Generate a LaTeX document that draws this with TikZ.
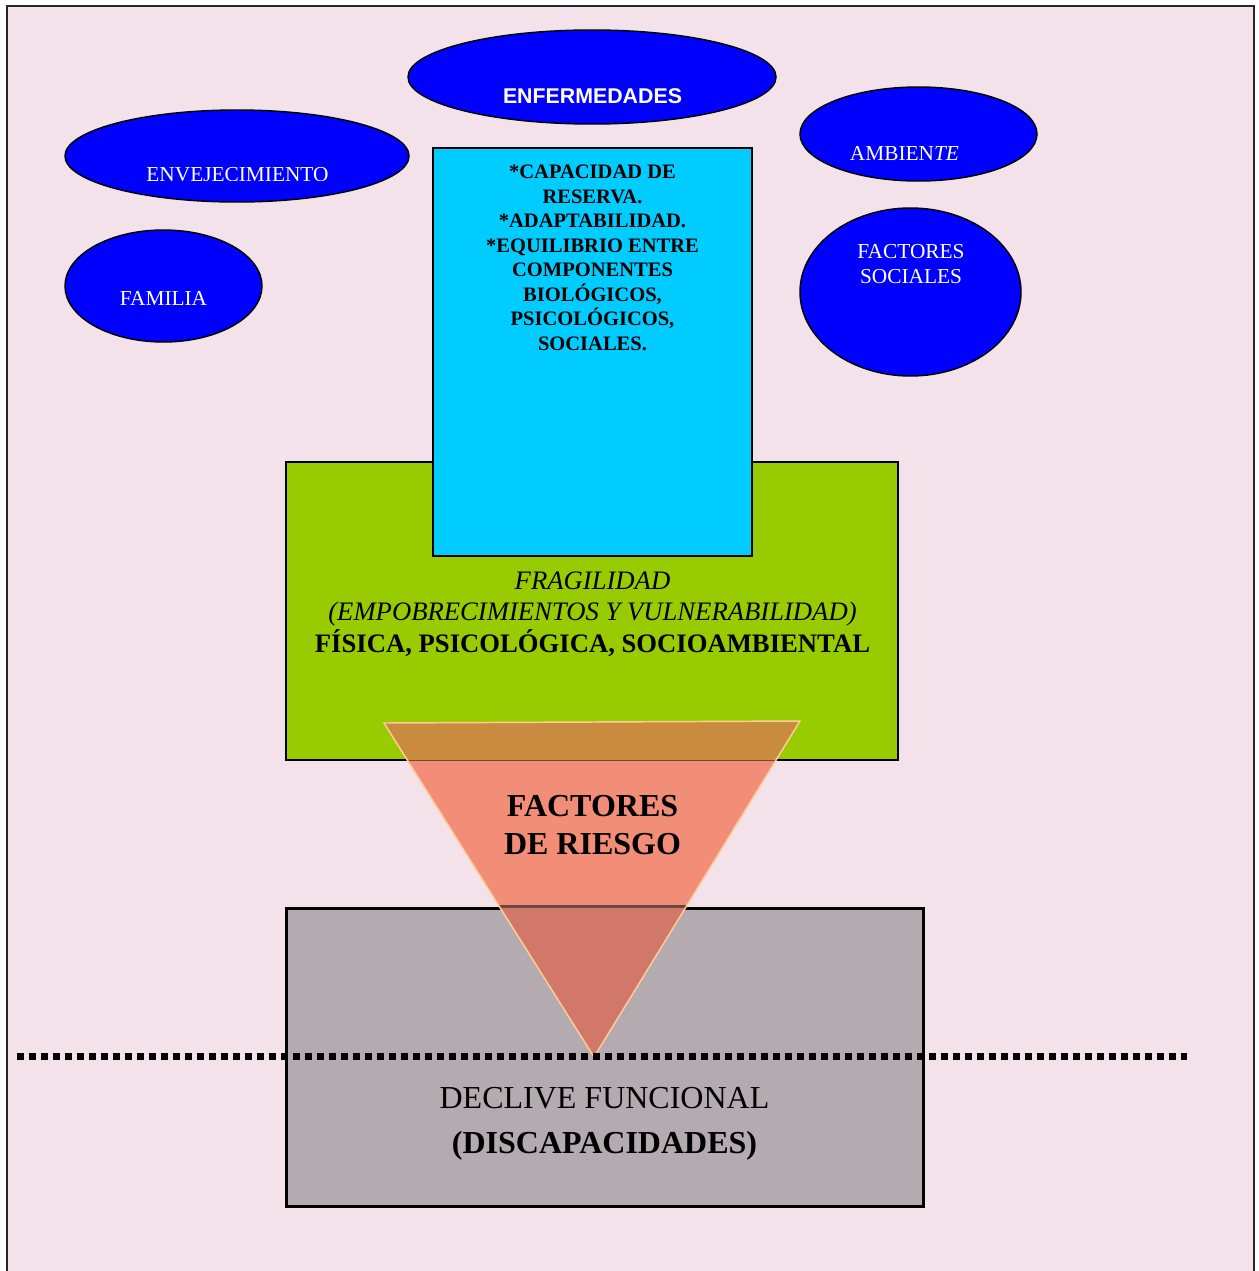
\documentclass[tikz,border=0pt]{standalone}
\usepackage{fontspec}
\setmainfont{Liberation Serif}
\newfontfamily\arialfont{Liberation Sans}
\usetikzlibrary{shapes.geometric}
\definecolor{bgpink}{HTML}{F3E2EA}
\definecolor{blobblue}{HTML}{0000FF}
\definecolor{boxcyan}{HTML}{00CCFF}
\definecolor{boxgreen}{HTML}{99CC00}
\definecolor{boxgrey}{HTML}{B4ABB0}
\definecolor{trisalmon}{HTML}{F28E78}
\definecolor{trionfrag}{HTML}{C98B3F}
\definecolor{trionecl}{HTML}{D27868}
\definecolor{trishade}{HTML}{6A4A40}
\definecolor{triedge}{HTML}{FFCC99}
\begin{document}
\begin{tikzpicture}[x=0.75pt,y=-0.75pt,
  blob/.style={ellipse, draw=black, line width=1.1pt, fill=blobblue, inner sep=0pt},
  blobtext/.style={text=white, align=center, inner sep=0pt, font=\fontsize{16}{18.75}\selectfont},
  panel/.style={rectangle, draw=black, line width=1.1pt, inner sep=0pt},
  paneltext/.style={text=black, align=center, inner sep=0pt},
  dotline/.style={line width=5.25pt, dash pattern=on 5.25pt off 3.75pt, black}
]
\useasboundingbox (0,0) rectangle (1259,1271);
\fill[white] (0,0) rectangle (1259,1271);
% page frame, open at the bottom
\draw[fill=bgpink, draw=black!85, line width=1.5pt] (7,1300) -- (7,6) -- (1254,6) -- (1254,1300);

% ellipses around the central box
\node[blob, minimum width=276pt, minimum height=70.5pt] (enf) at (592,77) {};
\node[blob, minimum width=258pt, minimum height=69pt] (env) at (237,156) {};
\node[blob, minimum width=147.75pt, minimum height=84pt] (fam) at (163.5,286) {};
\node[blob, minimum width=177.75pt, minimum height=70.5pt] (amb) at (918.5,134) {};
\node[blob, minimum width=165.75pt, minimum height=126pt] (soc) at (910.5,292) {};

% stacked panels
\node[panel, fill=boxgreen, minimum width=459pt, minimum height=223.5pt] (frag) at (592,611) {};
\node[panel, fill=boxcyan, minimum width=239.25pt, minimum height=306pt] (cap) at (592.5,352) {};
\node[panel, fill=boxgrey, line width=2.25pt, minimum width=477.75pt, minimum height=223.5pt] (decl) at (604.5,1057) {};

% risk-factor wedge, tinted where it lies over the panels
\coordinate (tl) at (384,723);
\coordinate (tr) at (800,721);
\coordinate (tip) at (594,1057);
\fill[trisalmon] (tl) -- (tr) -- (tip) -- cycle;
\begin{scope}
  \clip (tl) -- (tr) -- (tip) -- cycle;
  \fill[trionfrag] (frag.north west) rectangle (frag.south east);
  \fill[trionecl] (decl.north west) rectangle (decl.south east);
  \draw[trishade, line width=1.1pt] (frag.north west) rectangle (frag.south east);
  \draw[trishade, line width=2.25pt] (decl.north west) rectangle (decl.south east);
\end{scope}
\draw[triedge, line width=1.1pt, line join=miter] (tl) -- (tr) -- (tip) -- cycle;

% threshold line
\coordinate (dl) at (17,1056);
\coordinate (dr) at (1187,1056);
\draw[dotline] (dl) -- (dr);

% labels
\node[blobtext, font=\arialfont\bfseries\fontsize{16}{19}\selectfont] (enft) at (592.5,96) {ENFERMEDADES};
\begin{scope}
  \clip (60,100) rectangle (420,180.5);
  \node[blobtext] (envt) at (237.5,175) {ENVEJECIMIENTO};
\end{scope}
\node[blobtext] (famt) at (163.5,298) {FAMILIA};
\node[blobtext] (ambt) at (904.5,153) {AMBIEN\textit{TE}};
\node[blobtext] (soct) at (911,264.5) {FACTORES\\SOCIALES};

\node[paneltext, font=\bfseries\fontsize{15.4}{18.4}\selectfont] (capt) at (592.5,258)
  {*CAPACIDAD DE\\RESERVA.\\*ADAPTABILIDAD.\\*EQUILIBRIO ENTRE\\COMPONENTES\\BIOLÓGICOS,\\PSICOLÓGICOS,\\SOCIALES.};
\node[paneltext, font=\fontsize{20}{23.5}\selectfont] (fragt) at (592.5,614)
  {\textit{FRAGILIDAD}\\\textit{(EMPOBRECIMIENTOS Y VULNERABILIDAD)}\\\textbf{FÍSICA, PSICOLÓGICA, SOCIOAMBIENTAL}};
\node[paneltext, font=\bfseries\fontsize{24}{28.5}\selectfont] (riskt) at (592.5,825)
  {FACTORES\\DE RIESGO};
\node[paneltext, font=\fontsize{24}{34}\selectfont] (declt) at (604.5,1124)
  {DECLIVE FUNCIONAL\\\textbf{(DISCAPACIDADES)}};
\end{tikzpicture}
\end{document}
